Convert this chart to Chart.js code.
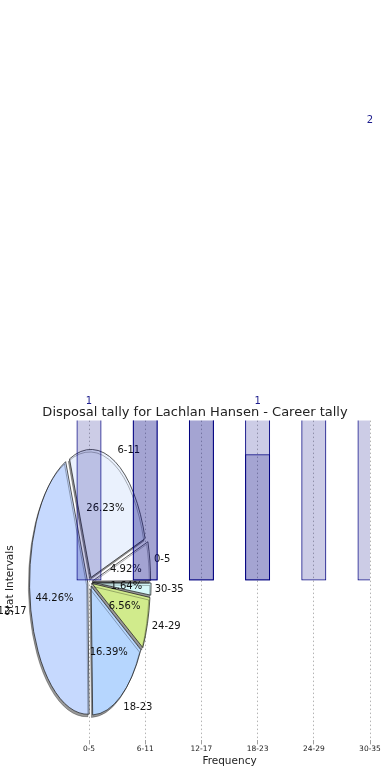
<!DOCTYPE html>
<html>
<head>
<meta charset="utf-8">
<script src="https://cdn.jsdelivr.net/npm/chart.js@4.4.1/dist/chart.umd.min.js"></script>
<style>
  html, body { margin: 0; padding: 0; background: #fff; }
  #wrap { position: relative; width: 390px; height: 780px; }
  #wrap canvas { position: absolute; left: 0; top: 0; }
</style>
</head>
<body>
<div id="wrap">
  <canvas id="axesLayer" width="390" height="780"></canvas>
  <canvas id="pieLayer" width="390" height="780"></canvas>
  <canvas id="barLayer" width="390" height="780"></canvas>
</div>
<script>
// Categories shared by bars and pie
const intervals = ['0-5', '6-11', '12-17', '18-23', '24-29', '30-35'];

// Two overlapping bar layers (floating bars from a common base)
const barBase = 0.36;
const layerOneTops = [1, 1, 1, 1, 1, 2];
const layerTwoTops = [null, 1, 1, 0.81, null, null];
const barValueLabels = [1, null, null, 1, null, 2];

// Pie counts per interval
const pieCounts = [3, 16, 27, 10, 4, 1];
const pieColors = ['#fdfdff', '#eaf1fd', '#c6d9fe', '#b6d6fe', '#d1eb8c', '#d6f8fa'];

const titleText = 'Disposal tally for Lachlan Hansen - Career tally';
const pieSquash = 0.444;   // pie looks squeezed sideways
const pieRadius = 128;
const pieExplode = 5;

Chart.defaults.font.family = 'DejaVu Sans';

// value labels above bars
const valueLabels = {
  id: 'valueLabels',
  afterDatasetsDraw(chart) {
    const { ctx, scales } = chart;
    ctx.save();
    ctx.fillStyle = '#1c1c8c';
    ctx.font = '10px "DejaVu Sans"';
    ctx.textAlign = 'center';
    ctx.textBaseline = 'middle';
    barValueLabels.forEach((v, i) => {
      if (v == null) return;
      ctx.fillText(String(v), scales.x.getPixelForValue(i), scales.y.getPixelForValue(v));
    });
    ctx.restore();
  }
};

function barConfig(showBars) {
  const ink = showBars ? 'transparent' : '#222';
  const barStyle = {
    backgroundColor: 'rgba(0,0,128,0.2)',
    borderColor: '#000080',
    borderWidth: 1,
    borderSkipped: false,
    barPercentage: 0.445,
    categoryPercentage: 1,
    grouped: false,
    hidden: !showBars,
    clip: { left: 30, top: 0, right: 0, bottom: 0 }
  };
  return {
    type: 'bar',
    data: {
      labels: intervals,
      datasets: [
        Object.assign({ data: layerOneTops.map(v => v == null ? null : [barBase, v]) }, barStyle),
        Object.assign({ data: layerTwoTops.map(v => v == null ? null : [barBase, v]) }, barStyle)
      ]
    },
    options: {
      responsive: false,
      animation: false,
      events: [],
      layout: { padding: { left: 20, right: 20, top: 0, bottom: 12.5 } },
      plugins: {
        legend: { display: false },
        tooltip: { enabled: false },
        title: {
          display: true,
          text: titleText,
          color: ink,
          font: { size: 13, weight: 'normal' },
          padding: { top: 405, bottom: 0 }
        }
      },
      scales: {
        x: {
          offset: false,
          grid: {
            offset: false,
            color: showBars ? 'transparent' : '#b4b4b4',
            lineWidth: 1,
            tickLength: 4,
            tickColor: showBars ? 'transparent' : '#a0a0a0'
          },
          border: { display: false, dash: [1.5, 2.5] },
          ticks: { color: ink, font: { size: 7.5 }, padding: 0, maxRotation: 0, autoSkip: false },
          title: { display: true, text: 'Frequency', color: ink, font: { size: 10.5 }, padding: { top: 1.5, bottom: 0 } }
        },
        y: {
          min: -0.21,
          max: 0.93,
          grid: { display: false, drawTicks: false },
          border: { display: false },
          ticks: { display: false },
          title: {
            display: true,
            text: 'Stat Intervals',
            color: ink,
            font: { size: 10.5 },
            padding: { top: -16, bottom: 72.4 }
          }
        }
      }
    },
    plugins: showBars ? [valueLabels] : []
  };
}

// squashed, exploded pie with shadow and labels
const pieShape = {
  id: 'pieShape',
  beforeDatasetsDraw(chart) {
    const arc = chart.getDatasetMeta(0).data[0];
    const ctx = chart.ctx;
    ctx.save();
    ctx.translate(arc.x, arc.y);
    ctx.scale(pieSquash, 1);
    ctx.translate(-arc.x, -arc.y);
    ctx.shadowColor = 'rgba(0,0,0,0.4)';
    ctx.shadowOffsetX = -1.2;
    ctx.shadowOffsetY = 2.5;
    ctx.shadowBlur = 0;
  },
  afterDatasetsDraw(chart) {
    const ctx = chart.ctx;
    ctx.restore();
    const meta = chart.getDatasetMeta(0);
    const values = chart.data.datasets[0].data;
    const names = chart.data.labels;
    const total = values.reduce((a, b) => a + b, 0);
    ctx.save();
    ctx.fillStyle = '#111';
    ctx.font = '10px "DejaVu Sans"';
    ctx.textBaseline = 'middle';
    meta.data.forEach((arc, i) => {
      const mid = (arc.startAngle + arc.endAngle) / 2;
      const r = arc.outerRadius;
      const lr = r * 1.1 + pieExplode;
      const pr = r * 0.6 + pieExplode;
      const lx = arc.x + Math.cos(mid) * lr * pieSquash;
      const ly = arc.y + Math.sin(mid) * lr;
      ctx.textAlign = Math.cos(mid) > 0 ? 'left' : 'right';
      ctx.fillText(names[i], lx, ly);
      ctx.textAlign = 'center';
      const pct = (values[i] / total * 100).toFixed(2) + '%';
      ctx.fillText(pct, arc.x + Math.cos(mid) * pr * pieSquash, arc.y + Math.sin(mid) * pr);
    });
    ctx.restore();
  }
};

new Chart(document.getElementById('axesLayer'), barConfig(false));

new Chart(document.getElementById('pieLayer'), {
  type: 'pie',
  data: {
    labels: intervals.slice().reverse(),
    datasets: [{
      data: pieCounts.slice().reverse(),
      backgroundColor: pieColors.slice().reverse(),
      borderColor: '#1a1a1a',
      borderWidth: 1,
      offset: pieExplode * 4,
      clip: false
    }]
  },
  options: {
    responsive: false,
    animation: false,
    events: [],
    rotation: 90,
    radius: pieRadius,
    layout: { padding: { left: 0, right: 210, top: 384, bottom: 0 } },
    plugins: { legend: { display: false }, tooltip: { enabled: false } }
  },
  plugins: [pieShape]
});

new Chart(document.getElementById('barLayer'), barConfig(true));
</script>
</body>
</html>
